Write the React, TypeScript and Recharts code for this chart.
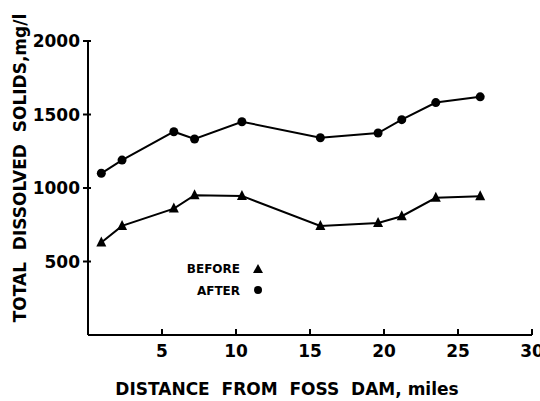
import React from "react";
import { LineChart, Line, XAxis, YAxis } from "recharts";

const distances = [0.9, 2.3, 5.8, 7.2, 10.4, 15.7, 19.6, 21.2, 23.5, 26.5];
const beforeValues = [629, 742, 860, 951, 946, 742, 762, 808, 933, 944];
const afterValues = [1100, 1190, 1383, 1333, 1451, 1342, 1374, 1465, 1581, 1620];
const xTicks = [5, 10, 15, 20, 25, 30];
const yTicks = [500, 1000, 1500, 2000];
const seriesNames = ["BEFORE", "AFTER"];

const data = distances.map((d, i) => ({
  distance: d,
  before: beforeValues[i],
  after: afterValues[i],
}));

const FONT = "'DejaVu Sans', sans-serif";

const Triangle = (props: any) => {
  const { cx, cy } = props;
  if (cx == null || cy == null) return null;
  const s = 5;
  return (
    <polygon
      points={`${cx},${cy - s - 1} ${cx - s},${cy + s - 1} ${cx + s},${cy + s - 1}`}
      fill="#000"
    />
  );
};

const Circle = (props: any) => {
  const { cx, cy } = props;
  if (cx == null || cy == null) return null;
  return <circle cx={cx} cy={cy} r={4.5} fill="#000" />;
};

const XTick = (props: any) => {
  const { x, y, payload } = props;
  return (
    <g>
      <line x1={x} y1={y} x2={x} y2={y - 6} stroke="#000" strokeWidth={2} />
      <text
        x={x}
        y={y + 22}
        textAnchor="middle"
        fontFamily={FONT}
        fontWeight="bold"
        fontSize={17}
        fill="#000"
      >
        {payload.value}
      </text>
    </g>
  );
};

const YTick = (props: any) => {
  const { x, y, payload } = props;
  return (
    <g>
      <line x1={x - 5} y1={y} x2={x + 3} y2={y} stroke="#000" strokeWidth={2} />
      <text
        x={x - 8}
        y={y + 6}
        textAnchor="end"
        fontFamily={FONT}
        fontWeight="bold"
        fontSize={17}
        fill="#000"
      >
        {payload.value}
      </text>
    </g>
  );
};

const LegendOverlay = () => (
  <svg
    width={110}
    height={40}
    style={{ position: "absolute", left: 162, top: 258 }}
  >
    <text x={78} y={15} textAnchor="end" fontFamily={FONT} fontWeight="bold" fontSize={12}>
      {seriesNames[0]}
    </text>
    <polygon points="96,6 91,15 101,15" fill="#000" />
    <text x={78} y={37} textAnchor="end" fontFamily={FONT} fontWeight="bold" fontSize={12}>
      {seriesNames[1]}
    </text>
    <circle cx={96} cy={32} r={4} fill="#000" />
  </svg>
);

export default function App() {
  return (
    <div style={{ position: "absolute", left: 0, top: 0, width: 540, height: 401, background: "#fff" }}>
      <LineChart
        width={540}
        height={401}
        data={data}
        margin={{ top: 41, right: 8, bottom: 0, left: 0 }}
      >
        <XAxis
          dataKey="distance"
          type="number"
          domain={[0, 30]}
          ticks={xTicks}
          tickSize={0}
          tickMargin={0}
          height={66}
          stroke="#000"
          strokeWidth={2}
          tick={<XTick />}
          tickLine={false}
          label={() => (
            <text
              x={287}
              y={395}
              textAnchor="middle"
              fontFamily={FONT}
              fontWeight="bold"
              fontSize={17}
              fill="#000"
              style={{ whiteSpace: "pre" }}
            >
              {"DISTANCE  FROM  FOSS  DAM, miles"}
            </text>
          )}
        />
        <YAxis
          type="number"
          domain={[0, 2000]}
          ticks={yTicks}
          width={88}
          tickSize={0}
          tickMargin={0}
          stroke="#000"
          strokeWidth={2}
          tick={<YTick />}
          tickLine={false}
          label={() => (
            <text
              x={26}
              y={168}
              transform="rotate(-90, 26, 168)"
              textAnchor="middle"
              fontFamily={FONT}
              fontWeight="bold"
              fontSize={17}
              fill="#000"
              style={{ whiteSpace: "pre" }}
            >
              {"TOTAL  DISSOLVED  SOLIDS,mg/l"}
            </text>
          )}
        />
        <Line
          dataKey="before"
          name={seriesNames[0]}
          stroke="#000"
          strokeWidth={2}
          dot={<Triangle />}
          activeDot={false}
          isAnimationActive={false}
        />
        <Line
          dataKey="after"
          name={seriesNames[1]}
          stroke="#000"
          strokeWidth={2}
          dot={<Circle />}
          activeDot={false}
          isAnimationActive={false}
        />
      </LineChart>
      <LegendOverlay />
    </div>
  );
}
